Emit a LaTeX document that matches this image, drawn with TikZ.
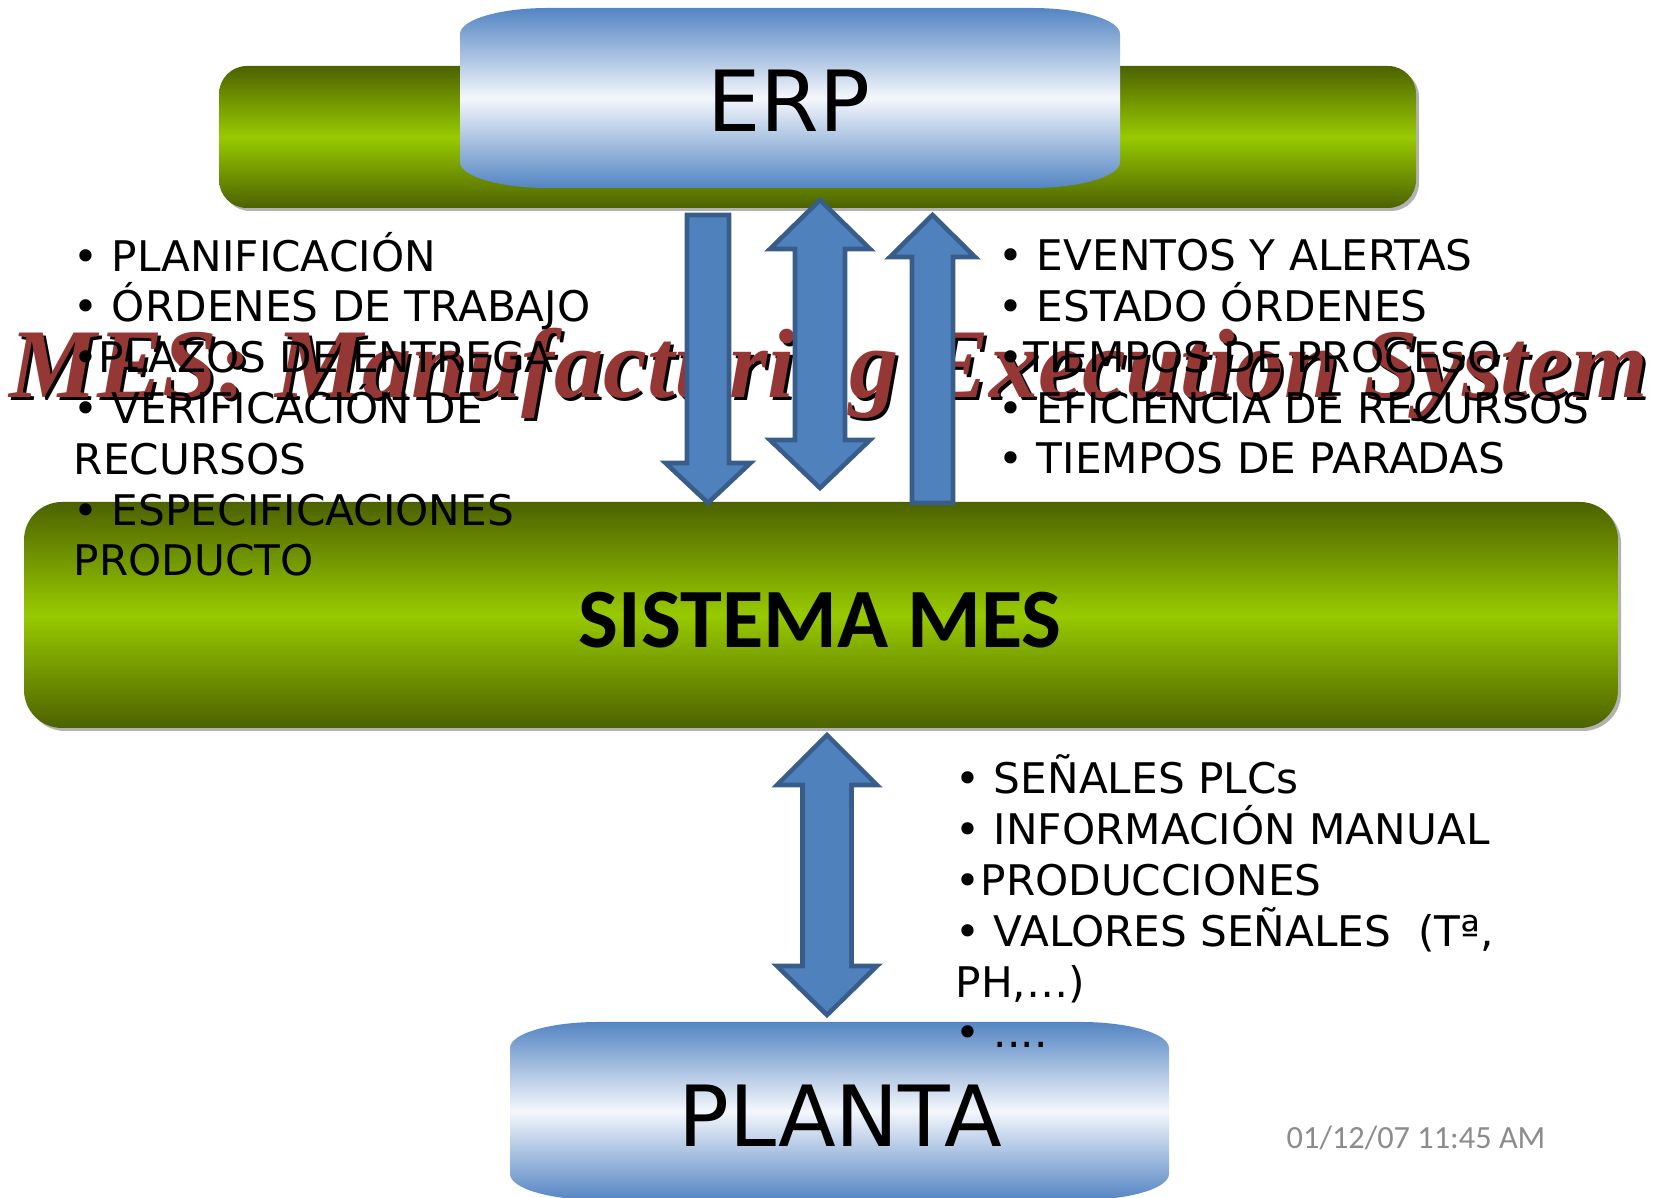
\documentclass[tikz,border=0pt]{standalone}
\usepackage{fontspec}
\setmainfont{DejaVu Sans}
\newfontfamily\calibrifont{Carlito}
\newfontfamily\timesfont{Liberation Serif}
\definecolor{barDark}{RGB}{76,98,0}
\definecolor{barLight}{RGB}{152,202,0}
\definecolor{boxBlue}{RGB}{84,133,195}
\definecolor{boxWhite}{RGB}{244,247,252}
\definecolor{arrowFill}{RGB}{79,129,189}
\definecolor{arrowLine}{RGB}{56,93,138}
\definecolor{titleRed}{RGB}{149,55,53}
\definecolor{dateGray}{RGB}{140,140,140}
\tikzset{
    listtext/.style={font=\fontsize{12}{14.45}\selectfont, align=left, inner sep=0pt, anchor=base west},
    boxlabel/.style={font=\fontsize{24}{28}\selectfont, inner sep=0pt, anchor=base},
    titletext/.style={font=\timesfont\bfseries\itshape\fontsize{28}{30}\selectfont, inner sep=0pt, anchor=base}
}
\begin{document}
\begin{tikzpicture}[x=0.01cm, y=-0.01cm]
              \def\rx{88}    % corner width of the blue boxes
              \def\ry{26}    % corner height of the blue boxes
              \useasboundingbox (0,0) rectangle (1653,1198);
              % green bars
              \foreach \Xa/\Ya/\Xb/\Yb/\R in {219/66/1416/208/0.28cm, 24/502/1618/728/0.38cm}
                  {
                  \fill[gray!60, rounded corners=\R] (\Xa+3,\Ya+3) rectangle (\Xb+3,\Yb+3);
                  \shade[top color=barDark, bottom color=barDark, middle color=barLight, rounded corners=\R] (\Xa,\Ya) rectangle (\Xb,\Yb);
                  }
              % blue boxes
              \foreach \Xa/\Ya/\Xb/\Yb in {460/8/1120/188, 510/1022/1169/1200}
                  {
                  \shade[top color=boxBlue, bottom color=boxBlue, middle color=boxWhite]
                      (\Xa,\Ya+\ry) .. controls (\Xa,{\Ya+0.45*\ry}) and ({\Xa+0.45*\rx},\Ya) .. (\Xa+\rx,\Ya)
                      -- (\Xb-\rx,\Ya) .. controls ({\Xb-0.45*\rx},\Ya) and (\Xb,{\Ya+0.45*\ry}) .. (\Xb,\Ya+\ry)
                      -- (\Xb,\Yb-\ry) .. controls (\Xb,{\Yb-0.45*\ry}) and ({\Xb-0.45*\rx},\Yb) .. (\Xb-\rx,\Yb)
                      -- (\Xa+\rx,\Yb) .. controls ({\Xa+0.45*\rx},\Yb) and (\Xa,{\Yb-0.45*\ry}) .. (\Xa,\Yb-\ry) -- cycle;
                  }
              % title with its shadow
              \node (titleshadow) [titletext, text=black] at (832,401) {MES: Manufacturing Execution System};
              \node (title) [titletext, text=titleRed] at (829,398) {MES: Manufacturing Execution System};
              % block arrows: centre, top, bottom, shaft, top head, top head length, bottom head, bottom head length
              \foreach \X/\Tp/\Bt/\Sh/\Ht/\Ta/\Hb/\Ba in {708/215/503/21/21/0/42.5/40, 820/200/488/25/50/49/50/48, 932.5/215/503/20.5/42.5/42/20.5/0, 827/735/1015/24.5/50/50/50/49}
                  {
                  \draw[arrowLine, fill=arrowFill, line width=1.3pt]
                      (\X,\Tp) -- (\X+\Ht,\Tp+\Ta) -- (\X+\Sh,\Tp+\Ta) -- (\X+\Sh,\Bt-\Ba) -- (\X+\Hb,\Bt-\Ba)
                      -- (\X,\Bt) -- (\X-\Hb,\Bt-\Ba) -- (\X-\Sh,\Bt-\Ba) -- (\X-\Sh,\Tp+\Ta) -- (\X-\Ht,\Tp+\Ta) -- cycle;
                  }
              % lists (placed by the baseline of their last line)
              \node (erpdown) [listtext] at (73,576) {• PLANIFICACIÓN\\• ÓRDENES DE TRABAJO\\•PLAZOS DE ENTREGA\\• VERIFICACIÓN DE\\RECURSOS\\• ESPECIFICACIONES\\PRODUCTO};
              \node (erpup) [listtext] at (998,474) {• EVENTOS Y ALERTAS\\• ESTADO ÓRDENES\\•TIEMPOS DE PROCESO\\• EFICIENCIA DE RECURSOS\\• TIEMPOS DE PARADAS};
              \node (plantaup) [listtext] at (955,1048) {• SEÑALES PLCs\\• INFORMACIÓN MANUAL\\•PRODUCCIONES\\• VALORES SEÑALES~ (Tª,\\PH,…)\\• ....};
              % labels
              \node (erp) [boxlabel] at (789,132) {ERP};
              \node (mes) [boxlabel, font=\calibrifont\bfseries\fontsize{24}{28}\selectfont] at (820,648) {SISTEMA MES};
              \node (planta) [boxlabel] at (840,1147) {PLANTA};
              \node (date) [inner sep=0pt, anchor=base west, text=dateGray, font=\calibrifont\fontsize{9.2}{11}\selectfont] at (1286,1149) {01/12/07 11:45 AM};
          \end{tikzpicture}
\end{document}
